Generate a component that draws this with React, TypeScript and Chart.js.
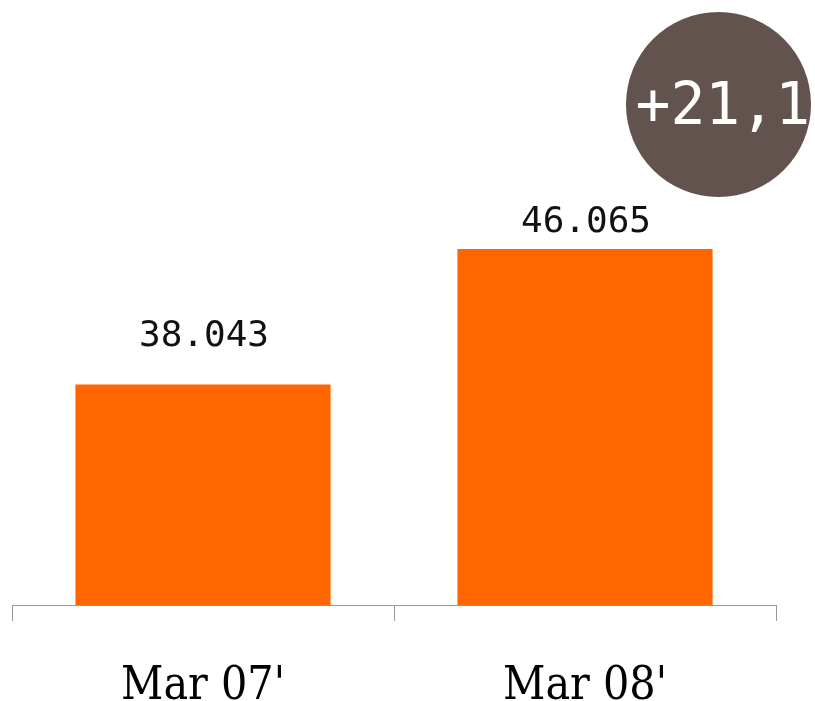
import React, { useEffect, useRef } from "react";
import { Chart, registerables } from "chart.js";

Chart.register(...registerables);

const categories = ["Mar 07'", "Mar 08'"];
const values = [38043, 46065];
const valueLabels = ["38.043", "46.065"];
const changeLabel = "+21,1";
const yMin = 25000;
const yMax = 50000;

const BAR_COLOR = "#FF6600";
const CIRCLE_COLOR = "#62534E";

const labelPlugin = {
  id: "valueLabels",
  afterDatasetsDraw(chart: any) {
    const ctx = chart.ctx;
    const meta = chart.getDatasetMeta(0);
    const gaps = [39, 17];
    ctx.save();
    ctx.font = "36px 'DejaVu Sans Mono'";
    ctx.fillStyle = "#111";
    ctx.textAlign = "center";
    ctx.textBaseline = "alphabetic";
    meta.data.forEach((bar: any, i: number) => {
      ctx.fillText(valueLabels[i], bar.x + 1, bar.y - gaps[i]);
    });
    ctx.restore();
  },
};

const badgePlugin = {
  id: "badge",
  afterDraw(chart: any) {
    const ctx = chart.ctx;
    const cx = 718.5;
    const cy = 104.5;
    const r = 92.5;
    ctx.save();
    ctx.beginPath();
    ctx.arc(cx, cy, r, 0, Math.PI * 2);
    ctx.fillStyle = CIRCLE_COLOR;
    ctx.fill();
    ctx.font = "58px 'DejaVu Sans Mono'";
    ctx.fillStyle = "#ffffff";
    ctx.textAlign = "left";
    ctx.textBaseline = "alphabetic";
    ctx.fillText(changeLabel, cx - 83, cy + 19);
    ctx.restore();
  },
};

export default function App() {
  const ref = useRef<HTMLCanvasElement | null>(null);
  useEffect(() => {
    if (!ref.current) return;
    const chart = new Chart(ref.current, {
      type: "bar",
      data: {
        labels: categories,
        datasets: [
          {
            data: values,
            backgroundColor: BAR_COLOR,
            borderWidth: 0,
            barPercentage: 0.668,
            categoryPercentage: 1,
          },
        ],
      },
      options: {
        responsive: false,
        animation: false,
        layout: { padding: { left: 12, right: 39, top: 182.5, bottom: 0 } },
        plugins: { legend: { display: false }, tooltip: { enabled: false } },
        scales: {
          y: { display: false, min: yMin, max: yMax },
          x: {
            afterFit: (scale: any) => {
              scale.height = 96;
            },
            border: { display: true, color: "#999", width: 1 },
            grid: {
              display: true,
              drawOnChartArea: false,
              drawTicks: true,
              tickLength: 16,
              color: "#999",
              offset: true,
            },
            ticks: {
              color: "#000",
              padding: 43,
              font: { family: "'DejaVu Serif Condensed', 'DejaVu Serif'", size: 46, lineHeight: 1 },
            },
          },
        },
      },
      plugins: [labelPlugin, badgePlugin],
    });
    return () => chart.destroy();
  }, []);
  return (
    <canvas
      ref={ref}
      width={815}
      height={701}
      style={{ position: "absolute", left: 0, top: 0, width: 815, height: 701 }}
    />
  );
}
